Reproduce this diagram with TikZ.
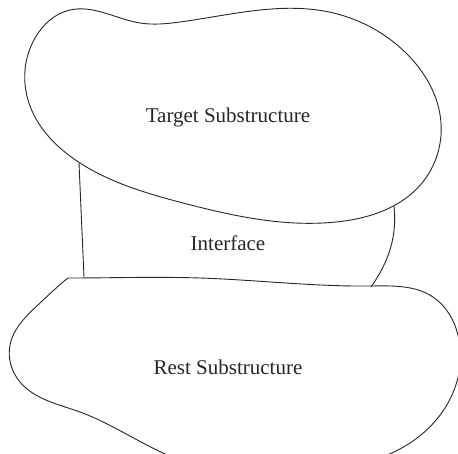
\documentclass[tikz,border=0pt]{standalone}
\usepackage{fontspec}
\setmainfont{Liberation Serif}
\usetikzlibrary{hobby}
\begin{document}
\begin{tikzpicture}[x=1pt,y=-1pt,
  outline/.style={draw=black!85,line width=0.9pt,line join=round},
  lbl/.style={font=\fontsize{21}{25}\selectfont,text=black!85,inner sep=0pt}]
\useasboundingbox (0,0) rectangle (458,453);
\clip (0,0) rectangle (458,453);
% target substructure
\draw[outline,use Hobby shortcut,closed=true]
 (70,10) .. (140,23) .. (180,22) .. (329,12) .. (406,53) .. (441,123)
 .. (422,183) .. (336,222) .. (183,203) .. (80,163) .. (28,100) .. (35,38);
% interface
\coordinate (il1) at (79,163);
\coordinate (il2) at (84,277);
\coordinate (ir1) at (394,206);
\coordinate (ir2) at (371,287);
\draw[outline] (il1) -- (il2);
\draw[outline] (ir1) .. controls (397,235) and (390,260) .. (ir2);
% rest substructure
\draw[outline,use Hobby shortcut]
 ([out angle=0]68,278) .. (200,278) .. (370,286) .. (433,297) .. (458,335) .. (452,395)
 .. (410,443) .. (300,472) .. (180,460) .. (80,412) .. (20,382) .. (10,345)
 .. (40,303) .. ([in angle=218]68,278);
\node[lbl] (t) at (228,117) {Target Substructure};
\node[lbl] (i) at (228,243) {Interface};
\node[lbl] (r) at (228,367) {Rest Substructure};
\end{tikzpicture}
\end{document}
